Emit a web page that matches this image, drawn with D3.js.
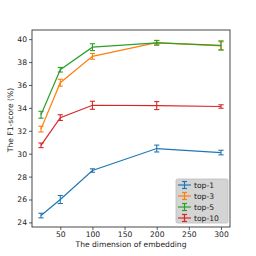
<!DOCTYPE html>
<html>
<head>
<meta charset="utf-8">
<script src="https://cdn.jsdelivr.net/npm/d3@7"></script>
<style>
  body { margin: 0; background: #fff; }
  text { font-family: "DejaVu Sans", sans-serif; fill: #222; }
</style>
</head>
<body>
<div id="chart"></div>
<script>
// data
const dims = [20, 50, 100, 200, 300];
const seriesNames = ["top-1", "top-3", "top-5", "top-10"];
const top1 = [24.6, 26.0, 28.53, 30.45, 30.1];
const top1Err = [0.2, 0.35, 0.15, 0.3, 0.2];
const top3 = [32.15, 36.2, 38.5, 39.7, 39.42];
const top3Err = [0.25, 0.3, 0.25, 0.2, 0.35];
const top5 = [33.4, 37.33, 39.3, 39.68, 39.45];
const top5Err = [0.3, 0.2, 0.3, 0.2, 0.4];
const top10 = [30.73, 33.15, 34.23, 34.2, 34.12];
const top10Err = [0.2, 0.25, 0.35, 0.35, 0.15];
const xTicks = [50, 100, 150, 200, 250, 300];
const yTicks = [24, 26, 28, 30, 32, 34, 36, 38, 40];

function addErrorChart(cWidth, cHeight) {
  const margin = { left: 32, top: 30, right: 26, bottom: 29 },
    colors = ["#1f77b4", "#ff7f0e", "#2ca02c", "#d62728"],
    w = cWidth - margin.left - margin.right,
    h = cHeight - margin.top - margin.bottom,
    svg = d3
      .select("#chart")
      .append("svg")
      .attr("width", cWidth)
      .attr("height", cHeight);

  const vals = [top1, top3, top5, top10],
    errs = [top1Err, top3Err, top5Err, top10Err];
  const data = seriesNames.map((name, i) => ({
    name,
    points: dims.map((d, j) => ({ x: d, y: vals[i][j], e: errs[i][j] }))
  }));

  const svgG = svg
      .append("g")
      .attr("transform", `translate(${margin.left}, ${margin.top})`),
    x = d3.scaleLinear().domain([6, 314]).range([0, w]),
    y = d3.scaleLinear().domain([23.6, 40.8]).range([h, 0]);

  const xAxis = svgG
    .append("g")
    .attr("transform", `translate(0, ${h})`)
    .call(d3.axisBottom(x).tickValues(xTicks).tickSize(3).tickPadding(2));
  const yAxis = svgG
    .append("g")
    .call(d3.axisLeft(y).tickValues(yTicks).tickSize(3).tickPadding(2));
  [xAxis, yAxis].forEach(a => {
    a.select(".domain").remove();
    a.selectAll(".tick line").attr("stroke", "#333").attr("stroke-width", 0.8);
    a.selectAll(".tick text").style("font-size", "7.6px").attr("fill", "#222");
  });

  // frame
  svgG
    .append("rect")
    .attr("width", w)
    .attr("height", h)
    .attr("fill", "none")
    .attr("stroke", "#333")
    .attr("stroke-width", 0.9);

  const line = d3
    .line()
    .x(d => x(d.x))
    .y(d => y(d.y));

  data.forEach((s, i) => {
    const g = svgG.append("g");
    g.append("path")
      .attr("fill", "none")
      .attr("stroke", colors[i])
      .attr("stroke-width", 1.2)
      .attr("d", line(s.points));
    const eb = g
      .selectAll(".eb")
      .data(s.points)
      .enter()
      .append("g")
      .attr("stroke", colors[i])
      .attr("stroke-width", 1.1);
    eb.append("line")
      .attr("x1", d => x(d.x))
      .attr("x2", d => x(d.x))
      .attr("y1", d => y(d.y - d.e))
      .attr("y2", d => y(d.y + d.e));
    [-1, 1].forEach(sg => {
      eb.append("line")
        .attr("x1", d => x(d.x) - 2.6)
        .attr("x2", d => x(d.x) + 2.6)
        .attr("y1", d => y(d.y + sg * d.e))
        .attr("y2", d => y(d.y + sg * d.e));
    });
  });

  // axis labels
  svg
    .append("text")
    .attr("x", margin.left + w / 2)
    .attr("y", 247)
    .attr("text-anchor", "middle")
    .style("font-size", "7.6px")
    .text("The dimension of embedding");
  svg
    .append("text")
    .attr("transform", `translate(13, 120) rotate(-90)`)
    .attr("text-anchor", "middle")
    .style("font-size", "7.6px")
    .text("The F1-score (%)");

  // legend
  const lg = svg.append("g").attr("transform", "translate(176, 179)");
  lg.append("rect")
    .attr("width", 52)
    .attr("height", 44)
    .attr("rx", 1.5)
    .attr("fill", "#d4d4d4")
    .attr("stroke", "#bdbdbd")
    .attr("stroke-width", 0.8);
  seriesNames.forEach((name, i) => {
    const yy = 6 + i * 11;
    const r = lg.append("g").attr("stroke", colors[i]).attr("stroke-width", 1.2);
    r.append("line").attr("x1", 2).attr("x2", 15).attr("y1", yy).attr("y2", yy);
    r.append("line").attr("x1", 8.5).attr("x2", 8.5).attr("y1", yy - 3.5).attr("y2", yy + 3.5);
    r.append("line").attr("x1", 6).attr("x2", 11).attr("y1", yy - 3.5).attr("y2", yy - 3.5);
    r.append("line").attr("x1", 6).attr("x2", 11).attr("y1", yy + 3.5).attr("y2", yy + 3.5);
    lg.append("text")
      .attr("x", 18)
      .attr("y", yy)
      .attr("dy", "0.35em")
      .style("font-size", "7.6px")
      .text(name);
  });
}

addErrorChart(256, 256);
</script>
</body>
</html>
